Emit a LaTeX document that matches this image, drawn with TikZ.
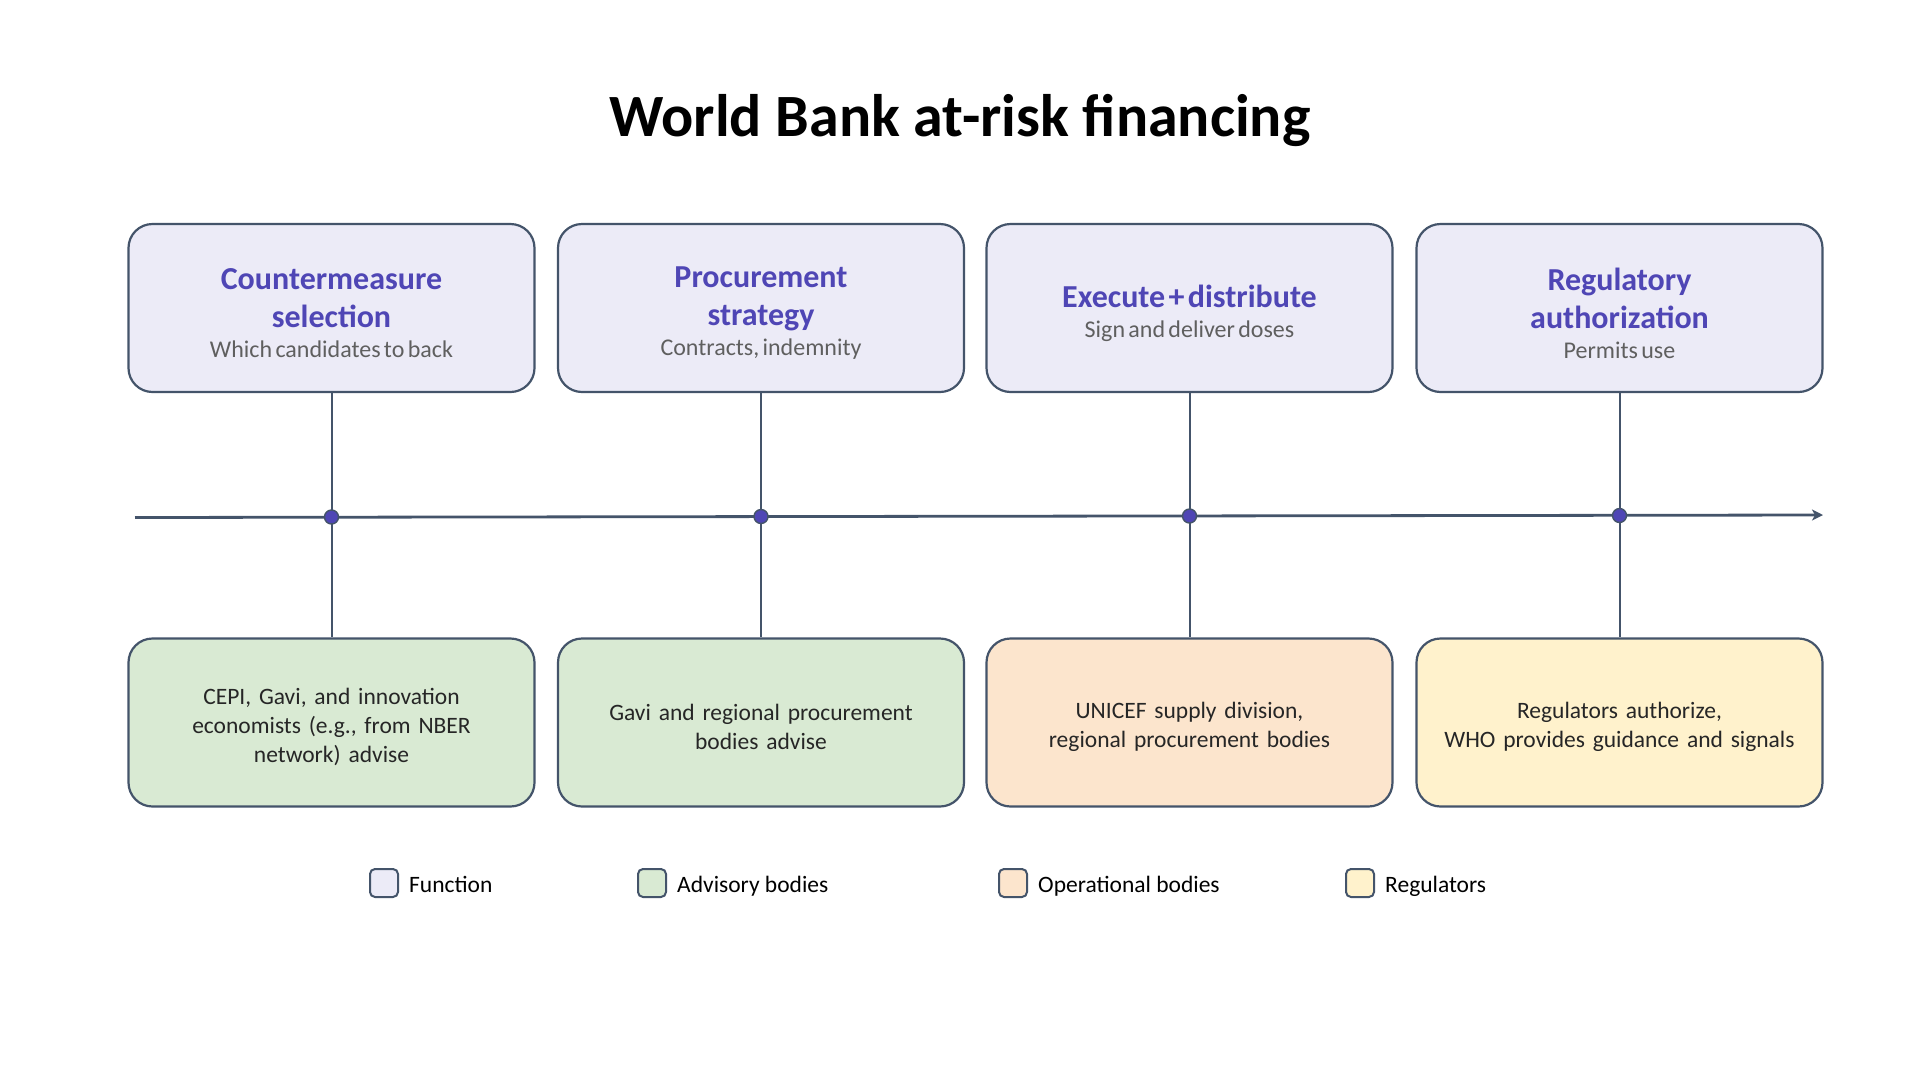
\documentclass[tikz,border=0pt]{standalone}
\usepackage{fontspec}
\setmainfont{Carlito}
\usepackage{xcolor}
\usetikzlibrary{arrows.meta,positioning}

\definecolor{slate}{HTML}{44546A}
\definecolor{fnfill}{HTML}{ECEBF7}
\definecolor{fntext}{HTML}{4F46B5}
\definecolor{subgray}{HTML}{5F5F5F}
\definecolor{advfill}{HTML}{D9EAD3}
\definecolor{opfill}{HTML}{FCE5CD}
\definecolor{regfill}{HTML}{FFF2CC}
\definecolor{bodytext}{HTML}{262626}

\newcommand{\fnhead}[2]{{\fontsize{32}{38}\selectfont\bfseries\color{fntext}#1\par}{\fontsize{24}{30}\selectfont\color{subgray}#2\par}}
\newcommand{\cardpad}[1]{\par\vspace{#1}}

\begin{document}
\begin{tikzpicture}[x=1pt, y=-1pt, >=Stealth,
  card/.style={rectangle, draw=slate, line width=2.2pt, rounded corners=24pt, minimum width=406pt, minimum height=168pt, text width=394pt, align=center, inner sep=0pt},
  fnbox/.style={card, fill=fnfill, execute at end node={\cardpad{-10pt}}},
  bodybox/.style={card, font=\fontsize{23.5}{29}\selectfont, text=bodytext, execute at end node={\cardpad{-8pt}}},
  link/.style={draw=slate, line width=2pt},
  timeline/.style={draw=slate, line width=2.8pt, -{Stealth[length=11pt, width=11pt, inset=3pt]}},
  dot/.style={circle, fill=fntext, draw=slate, line width=1.4pt, minimum size=14pt, inner sep=0pt},
  legkey/.style={rectangle, draw=slate, line width=2pt, rounded corners=5pt, minimum size=28pt, inner sep=0pt},
  legtext/.style={font=\fontsize{23.5}{28}\selectfont, text=black, inner sep=0pt, text height=16pt, text depth=5pt, anchor=west, yshift=-4pt}]

  \fill[white] (0,0) rectangle (1920,1077);
  \useasboundingbox (0,0) rectangle (1920,1077);

  % Title
  \node[font=\fontsize{60}{70}\selectfont\bfseries] (title) at (960,120) {World Bank at-risk financing};

  % Function boxes
  \node[fnbox] (top1) at (331.5,308) {\fnhead{Countermeasure\\selection}{Which candidates to back}};
  \node[fnbox] (top2) at (761,308) {\fnhead{Procurement\\strategy}{Contracts, indemnity}};
  \node[fnbox] (top3) at (1189.5,308) {\fnhead{Execute + distribute}{Sign and deliver doses}};
  \node[fnbox] (top4) at (1619.5,308) {\fnhead{Regulatory\\authorization}{Permits use}};

  % Bodies
  \node[bodybox, fill=advfill] (bot1) at (331.5,722.5) {CEPI, Gavi, and innovation\\economists (e.g., from NBER\\network) advise};
  \node[bodybox, fill=advfill] (bot2) at (761,722.5) {Gavi and regional procurement\\bodies advise};
  \node[bodybox, fill=opfill] (bot3) at (1189.5,722.5) {UNICEF supply division,\\regional procurement bodies};
  \node[bodybox, fill=regfill] (bot4) at (1619.5,722.5) {Regulators authorize,\\WHO provides guidance and signals};

  % Links between function and bodies
  \draw[link] (top1.south) -- (bot1.north);
  \draw[link] (top2.south) -- (bot2.north);
  \draw[link] (top3.south) -- (bot3.north);
  \draw[link] (top4.south) -- (bot4.north);

  % Timeline
  \coordinate (tlstart) at (135,517.5);
  \coordinate (tlend) at (1823,515);
  \draw[timeline] (tlstart) -- (tlend);
  \node[dot] (d1) at (331.5,517) {};
  \node[dot] (d2) at (761,516.5) {};
  \node[dot] (d3) at (1189.5,516) {};
  \node[dot] (d4) at (1619.5,515.5) {};

  % Legend
  \node[legkey, fill=fnfill] (key1) at (384,883) {};
  \node[legtext, right=10pt of key1] (leg1) {Function};
  \node[legkey, fill=advfill] (key2) at (652,883) {};
  \node[legtext, right=10pt of key2] (leg2) {Advisory bodies};
  \node[legkey, fill=opfill] (key3) at (1013,883) {};
  \node[legtext, right=10pt of key3] (leg3) {Operational bodies};
  \node[legkey, fill=regfill] (key4) at (1360,883) {};
  \node[legtext, right=10pt of key4] (leg4) {Regulators};

\end{tikzpicture}
\end{document}
